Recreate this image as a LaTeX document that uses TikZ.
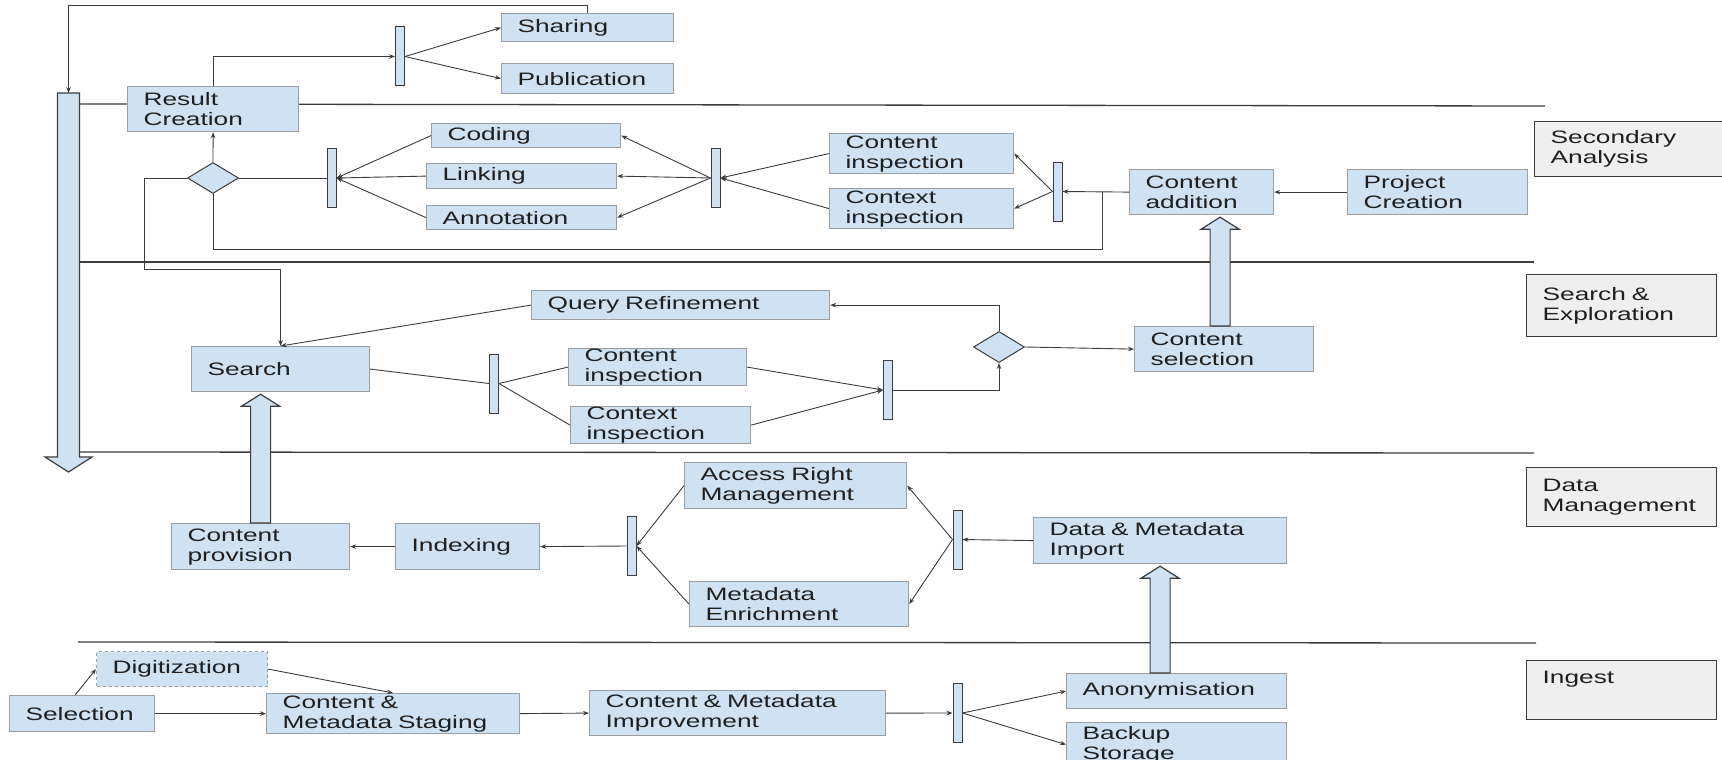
\documentclass[tikz,border=0pt]{standalone}
\usepackage{fontspec}
\setmainfont{Liberation Sans}[FakeStretch=1.46]
\usepackage{tikz}
\usetikzlibrary{positioning,calc,arrows.meta,shapes.geometric}
\definecolor{actblue}{HTML}{CFE2F3}
\definecolor{actline}{HTML}{9E9E9E}
\definecolor{lanegray}{HTML}{EFEFEF}
\definecolor{ink}{HTML}{3C3C3C}
\tikzset{
  act/.style={draw=actline, line width=1.2pt, fill=actblue, anchor=north west, align=left, inner xsep=16pt, inner ysep=0pt, font=\fontsize{18}{20}\selectfont, text=black!88},
  lane/.style={act, draw=ink, fill=lanegray},
  bar/.style={draw=ink, line width=1pt, fill=actblue, minimum width=9pt, minimum height=59pt, inner sep=0pt},
  choice/.style={diamond, draw=ink, line width=1pt, fill=actblue, minimum width=51pt, minimum height=31pt, inner sep=0pt},
  flow/.style={draw=ink, line width=0.9pt},
  sep/.style={draw=ink, line width=1.3pt},
  fat/.style={draw=ink, line width=1.2pt, fill=actblue, line join=miter}
}
\newcommand{\blockup}[2]{\draw[fat] let \p1=(#1), \p2=(#2) in
  (\x1-10pt,\y1) -- (\x1-10pt,\y2-14pt) -- (\x1-19pt,\y2-14pt) -- (\x1,\y2-2pt)
  -- (\x1+19pt,\y2-14pt) -- (\x1+10pt,\y2-14pt) -- (\x1+10pt,\y1) -- cycle;}
\begin{document}
\begin{tikzpicture}[x=1pt,y=-1pt,>={Stealth[length=6pt,width=4.5pt]}]
\useasboundingbox (0,0) rectangle (1722,760);
\draw[sep] (80,104) -- (1545,106);
\draw[sep] (80,262) -- (1534,262);
\draw[sep] (80,452) -- (1534,453);
\draw[sep] (78,642) -- (1536,643);

\coordinate (backtop) at (68.5,93);
\coordinate (backtip) at (68.5,472);
\draw[fat] let \p1=(backtop), \p2=(backtip) in
  (\x1-11pt,\y1) -- (\x1-11pt,\y2+15pt) -- (\x1-23.5pt,\y2+15pt) -- (\x2,\y2)
  -- (\x1+23.5pt,\y2+15pt) -- (\x1+11pt,\y2+15pt) -- (\x1+11pt,\y1) -- cycle;

\node[act, text width=140pt, minimum height=28pt] (share) at (501,13) {Sharing};
\node[act, text width=140pt, minimum height=30pt] (publ) at (501,63) {Publication};
\node[act, text width=139pt, minimum height=45pt] (rescr) at (127,86) {Result\\Creation};
\node[act, text width=157pt, minimum height=24pt] (coding) at (431,123) {Coding};
\node[act, text width=158pt, minimum height=25pt] (linking) at (426,163) {Linking};
\node[act, text width=158pt, minimum height=24pt] (annot) at (426,205) {Annotation};
\node[act, text width=152pt, minimum height=40pt] (cinsA) at (829,133) {Content\\inspection};
\node[act, text width=152pt, minimum height=40pt] (xinsA) at (829,188) {Context\\inspection};
\node[act, text width=112pt, minimum height=45pt] (cadd) at (1129,169) {Content\\addition};
\node[act, text width=148pt, minimum height=45pt] (projcr) at (1347,169) {Project\\Creation};
\node[lane, text width=168pt, minimum height=55pt] (laneSA) at (1534,121) {Secondary\\Analysis};

\node[act, text width=266pt, minimum height=29pt] (qref) at (531,290) {Query Refinement};
\node[act, text width=146pt, minimum height=45pt] (search) at (191,346) {Search};
\node[act, text width=146pt, minimum height=37pt] (cinsB) at (568,348) {Content\\inspection};
\node[act, text width=148pt, minimum height=37pt] (xinsB) at (570,406) {Context\\inspection};
\node[act, text width=147pt, minimum height=45pt] (csel) at (1134,326) {Content\\selection};
\node[lane, text width=158pt, minimum height=62pt] (laneSE) at (1526,274) {Search \&\\Exploration};

\node[act, text width=190pt, minimum height=46pt] (arm) at (684,462) {Access Right\\Management};
\node[act, text width=187pt, minimum height=45pt] (menr) at (689,581) {Metadata\\Enrichment};
\node[act, text width=221pt, minimum height=46pt] (dmimp) at (1033,517) {Data \& Metadata\\Import};
\node[act, text width=146pt, minimum height=46pt] (cprov) at (171,523) {Content\\provision};
\node[act, text width=112pt, minimum height=46pt] (index) at (395,523) {Indexing};
\node[lane, text width=158pt, minimum height=59pt] (laneDM) at (1526,467) {Data\\Management};

\node[act, dashed, text width=139pt, minimum height=35pt] (digit) at (96,651) {Digitization};
\node[act, text width=113pt, minimum height=36pt] (select) at (9,695) {Selection};
\node[act, text width=221pt, minimum height=40pt] (stage) at (266,693) {Content \&\\Metadata Staging};
\node[act, text width=264pt, minimum height=45pt] (improv) at (589,690) {Content \& Metadata\\Improvement};
\node[act, text width=188pt, minimum height=35pt] (anon) at (1066,673) {Anonymisation};
\node[act, text width=188pt, minimum height=44pt] (backup) at (1066,722) {Backup\\Storage};
\node[lane, text width=158pt, minimum height=59pt] (laneIN) at (1526,660) {Ingest\\\strut};

\node[bar] (barRes) at (400,56.5) {};
\node[bar] (barCode) at (331.5,178) {};
\node[bar] (barIns) at (715.5,178) {};
\node[bar] (barAdd) at (1057.5,191.5) {};
\node[bar] (barSrch) at (494,383.5) {};
\node[bar] (barJoin) at (888,390) {};
\node[bar] (barIdx) at (631.5,546) {};
\node[bar] (barImp) at (957.5,539.5) {};
\node[bar] (barIng) at (957.5,713) {};
\node[choice] (dec1) at (213,178) {};
\node[choice] (dec2) at (999,347) {};
\coordinate (loopA) at ($(barAdd.east)!0.6!(cadd.west)$);

\draw[flow,->] (rescr.north) |- (barRes.west);
\draw[flow,->] (barRes.east) -- (share.west);
\draw[flow,->] (barRes.east) -- (publ.west);
\draw[flow,->] (share.north) -- ++(0,-8) -| (backtop);
\draw[flow,->] (dec1.north) -- (rescr.south);
\draw[flow] (dec1.east) -- (barCode.west);
\foreach \n in {coding,linking,annot} {
  \draw[flow,->] (\n.west) -- (barCode.east);
  \draw[flow,->] (barIns.west) -- (\n.east);
}
\foreach \n in {cinsA,xinsA} {
  \draw[flow,->] (\n.west) -- (barIns.east);
  \draw[flow,->] (barAdd.west) -- (\n.east);
}
\draw[flow,->] (cadd.west) -- (barAdd.east);
\draw[flow,->] (projcr.west) -- (cadd.east);
\draw[flow] (dec1.south) -- ++(0,55) -| (loopA);
\draw[flow,->] (dec1.west) -| ++(-43,91) -| (search.north);

\draw[flow,->] (qref.west) -- (search.north);
\draw[flow] (search.east) -- (barSrch.west);
\draw[flow] (barSrch.east) -- (cinsB.west);
\draw[flow] (barSrch.east) -- (xinsB.west);
\draw[flow,->] (cinsB.east) -- (barJoin.west);
\draw[flow,->] (xinsB.east) -- (barJoin.west);
\draw[flow,->] (barJoin.east) -| (dec2.south);
\draw[flow,->] (dec2.north) |- (qref.east);
\draw[flow,->] (dec2.east) -- (csel.west);

\draw[flow,->] (index.west) -- (cprov.east);
\draw[flow,->] (barIdx.west) -- (index.east);
\draw[flow,->] (arm.west) -- (barIdx.east);
\draw[flow,->] (menr.west) -- (barIdx.east);
\draw[flow,->] (barImp.west) -- (arm.east);
\draw[flow,->] (barImp.west) -- (menr.east);
\draw[flow,->] (dmimp.west) -- (barImp.east);

\draw[flow,->] ([xshift=-7pt]select.north) -- (digit.west);
\draw[flow,->] (digit.east) -- (stage.north);
\draw[flow,->] (select.east) -- (stage.west);
\draw[flow,->] (stage.east) -- (improv.west);
\draw[flow,->] (improv.east) -- (barIng.west);
\draw[flow,->] (barIng.east) -- (anon.west);
\draw[flow,->] (barIng.east) -- (backup.west);

\blockup{$(csel.north)+(-4,0)$}{cadd.south}
\blockup{cprov.north}{search.south}
\blockup{anon.north -| dmimp.south}{dmimp.south}
\end{tikzpicture}
\end{document}
